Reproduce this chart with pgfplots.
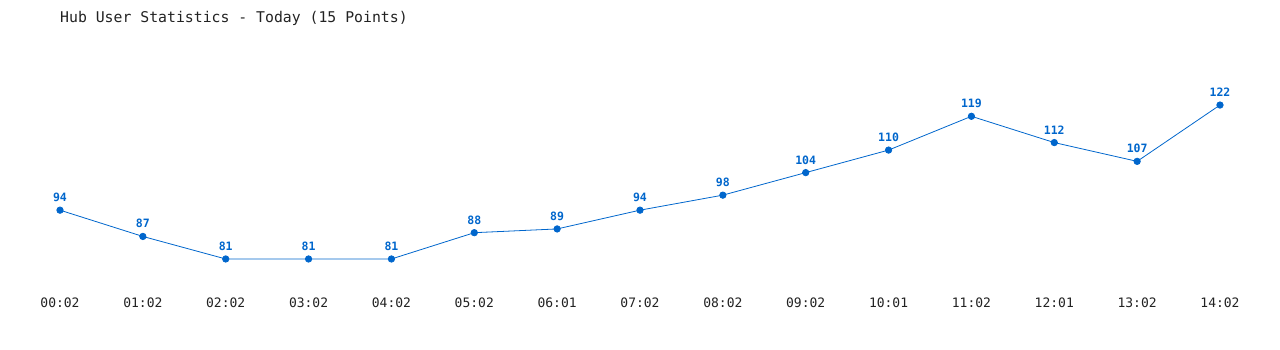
\documentclass[border=0pt]{standalone}
\usepackage{pgfplots}
\pgfplotsset{compat=1.18}
\usepackage{fontspec}
\setmainfont{DejaVu Sans}
\newfontfamily\mono{DejaVu Sans Mono}
\definecolor{lineblue}{HTML}{0066CC}
\definecolor{txt}{HTML}{222222}
\begin{document}
\begin{tikzpicture}
\useasboundingbox (0,0) rectangle (1280bp,350bp);
\node[anchor=west, inner sep=0, text=txt, font=\mono\fontsize{14.8bp}{16bp}\selectfont] at (60bp,332bp) {Hub User Statistics - Today (15 Points)};
\begin{axis}[
  at={(60bp,68.5bp)}, anchor=south west,
  scale only axis, width=1160bp, height=206.5bp,
  xmin=0, xmax=14, ymin=75, ymax=130,
  axis line style={draw=none},
  major tick length=0pt,
  ytick=\empty,
  xtick={0,...,14},
  xticklabels={00:02,01:02,02:02,03:02,04:02,05:02,06:01,07:02,08:02,09:02,10:01,11:02,12:01,13:02,14:02},
  xticklabel style={anchor=center, inner sep=0pt, yshift=-21.5bp, text=txt, font=\mono\fontsize{13bp}{15bp}\selectfont},
  clip=false,
  nodes near coords={\pgfmathprintnumber[assume math mode=true]{\pgfplotspointmeta}},
  every node near coord/.append style={anchor=south, inner sep=0pt, yshift=8bp, text=lineblue, font=\mono\bfseries\fontsize{11.5bp}{13bp}\selectfont},
]
\addplot[color=lineblue, line width=0.8bp, mark=*, mark size=3.2bp, mark options={fill=lineblue, draw=lineblue}] coordinates {
(0,94) (1,87) (2,81) (3,81) (4,81) (5,88) (6,89) (7,94) (8,98) (9,104) (10,110) (11,119) (12,112) (13,107) (14,122)
};
\end{axis}
\end{tikzpicture}
\end{document}
